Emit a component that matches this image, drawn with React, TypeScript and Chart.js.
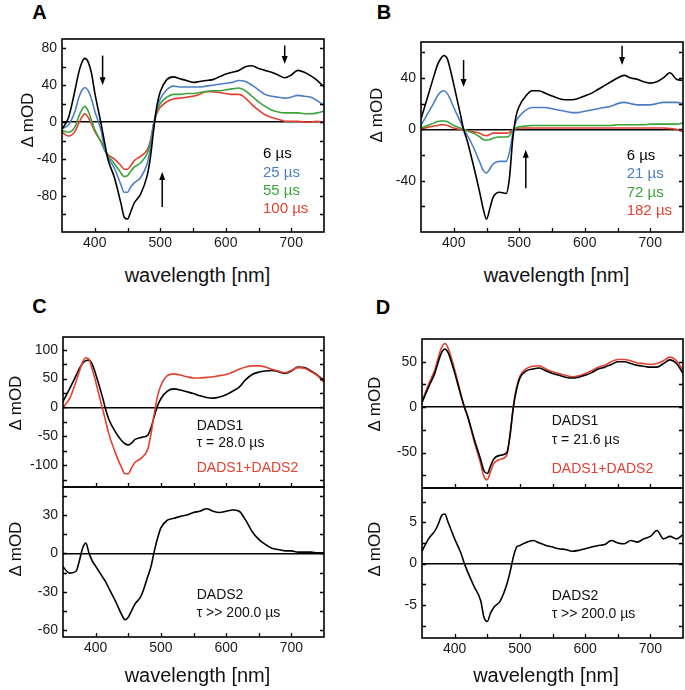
import React, { useEffect, useRef } from 'react';
import { Chart, registerables } from 'chart.js';

Chart.register(...registerables);

const FONT = "'Liberation Sans', Arial, Helvetica, sans-serif";

// ---------- shared wavelength grid (nm) ----------
const WL = [350, 360, 370, 375, 380, 385, 390, 395, 400, 410, 415, 420, 430, 440, 445, 450, 455, 460, 470, 480, 485, 490, 495, 500,
  510, 520, 530, 540, 550, 560, 570, 580, 590, 600, 610, 620, 630, 640, 650, 660, 670, 680, 690, 700, 710, 720, 730, 740, 750];

const X_LABELS = [400, 500, 600, 700];
const X_MINOR = [400, 450, 500, 550, 600, 650, 700];

// ---------- Panel A ----------
const A_6US = [-8, 5, 35, 52, 64, 69, 65, 53, 32, -3, -22, -40, -60, -88, -103, -105, -97, -88, -78, -58, -38, -8, 18, 33,
  46, 49, 47, 45, 43, 44, 45, 46, 49, 52, 54, 56, 60, 61, 58, 56, 54, 51, 48, 51, 56, 54, 50, 45, 38];
const A_25US = [-7, -3, 12, 25, 34, 37.5, 34, 25, 12, -10, -29, -38, -50, -68, -76, -76, -70, -66, -60, -45, -28, -2, 15, 25,
  35, 39, 38, 38, 38, 38, 39, 40, 41, 42, 43, 45, 44, 40, 35, 30, 28, 27, 26, 27, 29, 28, 27, 23, 18];
const A_55US = [-9, -11, -5, 5, 13, 17, 12, 2, -8, -22, -30, -36, -45, -55, -59, -58, -53, -49, -44, -34, -22, -2, 12, 20,
  27, 30, 30, 31, 31, 32, 33, 34, 34, 35, 36, 37, 34, 28, 22, 17, 13, 11, 10, 10, 10, 9, 9, 10, 12];
const A_100US = [-11, -15, -10, -2, 5, 9, 5, -2, -10, -22, -30, -35, -40, -47, -51, -51, -47, -42, -37, -30, -20, -2, 10, 16,
  22, 25, 26, 27, 28, 30, 33, 33, 32, 31, 30, 30, 26, 19, 13, 8, 5, 3, 1, 1, 1, 0, 0, 1, 0];
const A_Y_LABELS = [80, 40, 0, -40, -80];
const A_Y_MINOR = [-100, -80, -60, -40, -20, 0, 20, 40, 60, 80];
const A_ARROWS = [[412, 72, 40], [690, 83, 63], [503, -92, -54]];
const A_LEGEND = ['6 µs', '25 µs', '55 µs', '100 µs'];

// ---------- Panel B ----------
const B_6US = [8, 25, 42, 50, 55, 57.5, 55, 46, 35, 12, 0, -8, -28, -50, -62, -70, -62, -53, -49, -50, -38, -8, 10, 18,
  26, 30, 30, 28, 26, 24, 23, 23, 24, 26, 28, 31, 34, 37, 40, 42, 40, 39, 37, 36, 37, 40, 44, 39, 38];
const B_21US = [3, 12, 21, 26, 29, 30, 28, 23, 17, 6, 0, -4, -14, -26, -32, -34, -31, -27, -25, -25, -18, -4, 6, 10,
  15, 17, 17, 17, 16, 15, 14, 13, 13, 14, 15, 16, 17, 18, 20, 21, 20, 19, 19, 19, 20, 21, 21, 21, 20];
const B_72US = [1, 3, 5, 6, 6.5, 6.5, 6, 4.5, 3, 1, 0, -1, -3, -6, -8, -8.5, -8, -7, -6, -6, -5, -1, 1, 2,
  2.5, 3, 3, 3, 3, 3, 3, 3, 3, 3, 3, 3, 3, 3, 3.5, 3.5, 3.5, 3.5, 3.5, 4, 4, 4, 4, 4, 5];
const B_182US = [0.5, 1.5, 2.5, 3, 3.5, 3.5, 3, 2, 1, 0, -0.5, -1, -2, -3, -4.5, -5, -4, -3, -3, -3, -2.5, -0.5, 0.5, 1,
  1, 1, 1, 1, 1, 1, 1, 1, 1, 1, 1, 1, 1, 1, 1, 1, 1, 1, 1, 1, 1, 1, 0.5, 0, -2];
const B_Y_LABELS = [40, 0, -40];
const B_Y_MINOR = [-60, -40, -20, 0, 20, 40, 60];
const B_ARROWS = [[415, 54, 33], [657, 65, 50], [510, -46, -16]];
const B_LEGEND = ['6 µs', '21 µs', '72 µs', '182 µs'];

// ---------- Panel C ----------
const C_DADS1 = [10, 32, 55, 67, 76, 81, 82, 74, 58, 20, -2, -20, -42, -58, -63, -65, -62, -56, -52, -48, -35, -15, 3, 15,
  28, 32, 30, 27, 24, 20, 17, 16, 18, 22, 28, 35, 48, 57, 61, 63, 64, 62, 59, 63, 70, 69, 63, 56, 47];
const C_SUM = [0, 15, 45, 62, 78, 86, 83, 65, 45, 0, -22, -45, -78, -105, -115, -115, -105, -96, -88, -72, -45, -10, 20, 38,
  55, 58, 56, 53, 51, 51, 52, 53, 55, 57, 61, 66, 70, 72, 72, 70, 66, 63, 60, 64, 69, 68, 62, 55, 43];
const C_DADS2 = [-10.5, -15.5, -14, -6, 4, 8, 0, -6, -10, -18, -22, -27, -37, -48, -52, -50, -45, -40, -33, -18, -10, 2, 12, 20,
  26, 27.5, 29, 30, 32, 33, 35, 33, 32, 33, 34, 33, 26, 17, 11, 7, 4, 3, 2, 2, 1, 1, 1, 0.5, 0.5];
const C1_Y_LABELS = [100, 50, 0, -50, -100];
const C1_Y_MINOR = [-125, -100, -75, -50, -25, 0, 25, 50, 75, 100];
const C2_Y_LABELS = [30, 0, -30, -60];
const C2_Y_MINOR = [-60, -45, -30, -15, 0, 15, 30, 45];

// ---------- Panel D ----------
const D_DADS1 = [5, 22, 38, 50, 60, 64, 60, 50, 38, 12, 0, -10, -35, -58, -70, -73, -65, -57, -53, -50, -30, 0, 20, 32,
  40, 42, 43, 40, 37, 35, 33, 32, 33, 35, 38, 42, 44, 47, 50, 50, 48, 46, 45, 44, 44, 48, 52, 48, 37];
const D_SUM = [6.5, 25, 42, 55, 65.5, 70, 65, 54, 41.5, 13, 0, -11, -38, -62.5, -76.5, -80, -71, -62, -57.5, -52.5, -31, 1, 22, 34,
  42.5, 45, 45.5, 42, 39, 37, 35, 33.5, 34.5, 37, 40, 44, 46, 50, 52.5, 52.5, 51, 48.5, 48, 47, 48, 51, 55, 51, 40.5];
const D_DADS2 = [1.5, 3, 4, 4.8, 5.8, 6, 5, 4, 3, 1.2, 0, -1, -2.8, -4.5, -6.5, -7, -6, -5.3, -4.5, -2.5, -1, 0.8, 2, 2.2,
  2.6, 2.8, 2.5, 2.2, 2.0, 1.8, 1.7, 1.5, 1.6, 1.8, 2.0, 2.2, 2.3, 2.8, 2.5, 2.4, 2.8, 2.6, 3.0, 3.3, 4.0, 3.0, 3.3, 3.0, 3.5];
const D1_Y_LABELS = [50, 0, -50];
const D1_Y_MINOR = [-75, -50, -25, 0, 25, 50];
const D2_Y_LABELS = [5, 0, -5];
const D2_Y_MINOR = [-7.5, -5, -2.5, 0, 2.5, 5, 7.5];

// ---------- colours ----------
const BLACK = '#000000';
const BLUE = '#4a7ec4';
const GREEN = '#3aa43a';
const RED = '#e4402f';

type Series = { values: number[]; color: string };
type Spec = {
  box: [number, number, number, number];
  yMin: number; yMax: number;
  yLabels: number[]; yMinor: number[];
  series: Series[];
  showX: boolean;
  arrows: number[][];
};

const framePlugin = {
  id: 'frameTicks',
  afterDatasetsDraw(chart: any, _args: any, opts: any) {
    const { ctx, chartArea } = chart;
    const { left, top, right, bottom } = chartArea;
    const x = chart.scales.x;
    const y = chart.scales.y;
    ctx.save();
    ctx.strokeStyle = '#000';
    ctx.fillStyle = '#000';
    ctx.lineWidth = 1.3;
    ctx.beginPath();
    for (const v of opts.xTicks || []) {
      const px = Math.round(x.getPixelForValue(v)) + 0.5;
      ctx.moveTo(px, bottom);
      ctx.lineTo(px, bottom - 4);
    }
    for (const v of opts.yTicks || []) {
      const py = Math.round(y.getPixelForValue(v)) + 0.5;
      if (py <= top + 1 || py >= bottom - 1) continue;
      ctx.moveTo(left, py);
      ctx.lineTo(left + 4, py);
      ctx.moveTo(right, py);
      ctx.lineTo(right - 4, py);
    }
    ctx.stroke();
    ctx.lineWidth = 1.6;
    ctx.strokeRect(left, top, right - left, bottom - top);
    for (const a of opts.arrows || []) {
      const px = x.getPixelForValue(a[0]);
      const p1 = y.getPixelForValue(a[1]);
      const p2 = y.getPixelForValue(a[2]);
      const dir = Math.sign(p2 - p1);
      ctx.lineWidth = 1.5;
      ctx.beginPath();
      ctx.moveTo(px, p1);
      ctx.lineTo(px, p2 - dir * 6);
      ctx.stroke();
      ctx.beginPath();
      ctx.moveTo(px, p2);
      ctx.lineTo(px - 3, p2 - dir * 8);
      ctx.lineTo(px + 3, p2 - dir * 8);
      ctx.closePath();
      ctx.fill();
    }
    ctx.restore();
  },
};

const YW = 45;
const PAD = 3;
const XH = 22;

function Plot({ spec }: { spec: Spec }) {
  const ref = useRef<HTMLCanvasElement | null>(null);
  const [L, T, R, B] = spec.box;
  const cw = R - L + YW + PAD;
  const ch = B - T + PAD + (spec.showX ? XH : PAD);

  useEffect(() => {
    if (!ref.current) return;
    const chart = new Chart(ref.current, {
      type: 'line',
      data: {
        datasets: spec.series.map((s) => ({
          data: WL.map((w, i) => ({ x: w, y: s.values[i] })),
          borderColor: s.color,
          borderWidth: 1.6,
          pointRadius: 0,
          cubicInterpolationMode: 'monotone',
          fill: false,
        })),
      },
      options: {
        animation: false,
        responsive: false,
        maintainAspectRatio: false,
        devicePixelRatio: 1,
        events: [],
        layout: { padding: { left: 0, top: PAD, right: PAD, bottom: spec.showX ? 0 : PAD } },
        plugins: {
          legend: { display: false },
          tooltip: { enabled: false },
          frameTicks: { xTicks: X_MINOR, yTicks: spec.yMinor, arrows: spec.arrows },
        } as any,
        scales: {
          x: {
            type: 'linear',
            min: 350,
            max: 750,
            display: spec.showX,
            grid: { display: false, drawTicks: false },
            border: { display: false },
            ticks: { padding: 3, color: '#1a1a1a', font: { family: FONT, size: 14 }, maxRotation: 0 },
            afterBuildTicks: (s: any) => { s.ticks = X_LABELS.map((v) => ({ value: v })); },
            afterFit: (s: any) => { s.height = spec.showX ? XH : 0; s.paddingLeft = 0; s.paddingRight = 0; },
          },
          y: {
            type: 'linear',
            min: spec.yMin,
            max: spec.yMax,
            grid: {
              drawTicks: false,
              lineWidth: 1.5,
              color: (c: any) => (c.tick && c.tick.value === 0 ? '#000' : 'rgba(0,0,0,0)'),
            },
            border: { display: false },
            ticks: {
              padding: 5,
              color: '#1a1a1a',
              font: { family: FONT, size: 14 },
              callback: (v: any) => String(v),
            },
            afterBuildTicks: (s: any) => { s.ticks = spec.yLabels.map((v) => ({ value: v })); },
            afterFit: (s: any) => { s.width = YW; s.paddingTop = 0; s.paddingBottom = 0; },
          },
        },
      } as any,
      plugins: [framePlugin],
    });
    return () => chart.destroy();
  }, []);

  return (
    <canvas
      ref={ref}
      width={cw}
      height={ch}
      style={{ position: 'absolute', left: L - YW, top: T - PAD, width: cw, height: ch }}
    />
  );
}

const SPECS: Spec[] = [
  {
    box: [62, 39, 324, 232], yMin: -119, yMax: 90, yLabels: A_Y_LABELS, yMinor: A_Y_MINOR, showX: true, arrows: A_ARROWS,
    series: [
      { values: A_6US, color: BLACK },
      { values: A_25US, color: BLUE },
      { values: A_55US, color: GREEN },
      { values: A_100US, color: RED },
    ],
  },
  {
    box: [421, 42, 683, 232], yMin: -80, yMax: 68, yLabels: B_Y_LABELS, yMinor: B_Y_MINOR, showX: true, arrows: B_ARROWS,
    series: [
      { values: B_6US, color: BLACK },
      { values: B_21US, color: BLUE },
      { values: B_72US, color: GREEN },
      { values: B_182US, color: RED },
    ],
  },
  {
    box: [63, 337, 324, 487], yMin: -138, yMax: 122, yLabels: C1_Y_LABELS, yMinor: C1_Y_MINOR, showX: false, arrows: [],
    series: [
      { values: C_SUM, color: RED },
      { values: C_DADS1, color: BLACK },
    ],
  },
  {
    box: [63, 487, 324, 637], yMin: -65.5, yMax: 52, yLabels: C2_Y_LABELS, yMinor: C2_Y_MINOR, showX: true, arrows: [],
    series: [{ values: C_DADS2, color: BLACK }],
  },
  {
    box: [422, 339, 683, 488], yMin: -89, yMax: 75, yLabels: D1_Y_LABELS, yMinor: D1_Y_MINOR, showX: false, arrows: [],
    series: [
      { values: D_DADS1, color: BLACK },
      { values: D_SUM, color: RED },
    ],
  },
  {
    box: [422, 488, 683, 638], yMin: -9, yMax: 9.15, yLabels: D2_Y_LABELS, yMinor: D2_Y_MINOR, showX: true, arrows: [],
    series: [{ values: D_DADS2, color: BLACK }],
  },
];

const txt = (x: number, y: number, s: string, extra: React.CSSProperties = {}, key?: string) => (
  <div
    key={key}
    style={{
      position: 'absolute', left: x, top: y, transform: 'translateY(-50%)', whiteSpace: 'nowrap',
      lineHeight: 1, fontFamily: FONT, fontSize: 14, color: '#111', ...extra,
    }}
  >
    {s}
  </div>
);

const centered = (x: number, y: number, s: string, extra: React.CSSProperties = {}) => (
  <div
    style={{
      position: 'absolute', left: x, top: y, transform: 'translate(-50%,-50%)', whiteSpace: 'nowrap',
      lineHeight: 1, fontFamily: FONT, color: '#111', ...extra,
    }}
  >
    {s}
  </div>
);

const yTitle = (x: number, y: number) => (
  <div
    style={{
      position: 'absolute', left: x, top: y, transform: 'translate(-50%,-50%) rotate(-90deg)', whiteSpace: 'nowrap',
      lineHeight: 1, fontFamily: FONT, fontSize: 17, color: '#111',
    }}
  >
    Δ mOD
  </div>
);

const LEG_COLORS = [BLACK, BLUE, GREEN, RED];

export default function App() {
  return (
    <div style={{ position: 'absolute', left: 0, top: 0, width: 685, height: 690, background: '#fff', overflow: 'hidden' }}>
      {SPECS.map((s, i) => <Plot key={i} spec={s} />)}

      {centered(39.5, 12, 'A', { fontSize: 20, fontWeight: 'bold', color: '#000' })}
      {centered(384, 12, 'B', { fontSize: 20, fontWeight: 'bold', color: '#000' })}
      {centered(39.5, 305.5, 'C', { fontSize: 20, fontWeight: 'bold', color: '#000' })}
      {centered(383, 306.5, 'D', { fontSize: 20, fontWeight: 'bold', color: '#000' })}

      {centered(197.5, 275, 'wavelength [nm]', { fontSize: 20 })}
      {centered(556.5, 275, 'wavelength [nm]', { fontSize: 20 })}
      {centered(197.5, 675, 'wavelength [nm]', { fontSize: 20 })}
      {centered(546, 675, 'wavelength [nm]', { fontSize: 20 })}

      {yTitle(26.5, 120)}
      {yTitle(375.5, 115)}
      {yTitle(14.5, 402.5)}
      {yTitle(14.5, 548.5)}
      {yTitle(374, 404)}
      {yTitle(374, 548.5)}

      {A_LEGEND.map((s, i) => txt(263, [151.7, 170.7, 189.3, 207.3][i], s, { fontSize: 15, color: LEG_COLORS[i] }, 'a' + i))}
      {B_LEGEND.map((s, i) => txt(626.7, [154.3, 172.3, 190.7, 209.3][i], s, { fontSize: 15, color: LEG_COLORS[i] }, 'b' + i))}

      {txt(196.7, 425, 'DADS1')}
      {txt(196.7, 441.7, 'τ = 28.0 µs')}
      {txt(196.7, 466.7, 'DADS1+DADS2', { color: RED })}
      {txt(196.7, 594, 'DADS2')}
      {txt(196.7, 612.3, 'τ >> 200.0 µs')}

      {txt(551.7, 420, 'DADS1')}
      {txt(551.7, 439, 'τ = 21.6 µs')}
      {txt(551.7, 468.3, 'DADS1+DADS2', { color: RED })}
      {txt(551.7, 595, 'DADS2')}
      {txt(551.7, 613.3, 'τ >> 200.0 µs')}
    </div>
  );
}
